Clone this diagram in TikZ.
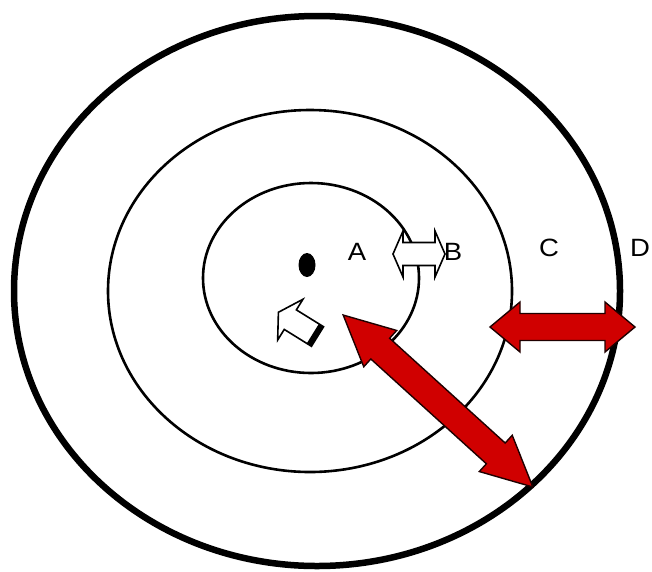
\documentclass[tikz,border=0pt]{standalone}
\usepackage{fontspec}
\setmainfont{Liberation Sans}
\definecolor{arrowred}{RGB}{208,0,0}
\tikzset{
  ring/.style={draw=black, line width=2.6pt},
  zone/.style={font=\fontsize{25}{29}\selectfont, xscale=1.1, inner sep=0pt},
  redarrow/.style={fill=arrowred, draw=black!85!arrowred, line width=1.4pt},
  whitearrow/.style={fill=white, draw=black, line width=1.6pt}
}
\begin{document}
\begin{tikzpicture}[x=1pt,y=-1pt]
    \useasboundingbox (0,0) rectangle (652,571);
    % rings
    \draw[ring, line width=6.5pt] (317,291) ellipse [x radius=303, y radius=275];
    \draw[ring] (310,291) ellipse [x radius=202, y radius=181];
    \draw[ring] (311,278) ellipse [x radius=108, y radius=95];
    % centre
    \fill (307,265) ellipse [x radius=8.5, y radius=12];
    % zones
    \node[zone] (labA) at (357,252) {A};
    \node[zone] (labB) at (453,252) {B};
    \node[zone] (labC) at (549,248) {C};
    \node[zone] (labD) at (640,248) {D};
    % red arrows
    \scope[shift={(562.5,327)}]
    \draw[redarrow] (-72.5,0) -- (-42.5,-25) -- (-42.5,-13.5) -- (42.5,-13.5) -- (42.5,-25) -- (72.5,0)
        -- (42.5,25) -- (42.5,13.5) -- (-42.5,13.5) -- (-42.5,25) -- cycle;
    \endscope
    \scope[shift={(438,401)}, rotate=-42.2]
    \draw[redarrow] (-128,0) -- (-78,-24.5) -- (-78,-14) -- (78,-14) -- (78,-24.5) -- (128,0)
        -- (78,24.5) -- (78,14) -- (-78,14) -- (-78,24.5) -- cycle;
    \endscope
    % white arrows
    \scope[shift={(419,254)}]
    \draw[whitearrow] (-26,0) -- (-16,-23) -- (-16,-11.5) -- (16,-11.5) -- (16,-23) -- (26,0)
        -- (16,23) -- (16,11.5) -- (-16,11.5) -- (-16,23) -- cycle;
    \endscope
    \scope[shift={(317.5,336.5)}, rotate=148.2]
    \draw[whitearrow] (0,-11.5) -- (32,-11.5) -- (32,-24) -- (46,0) -- (32,24) -- (32,11.5) -- (0,11.5) -- cycle;
    \fill (0,-11.5) rectangle (5.5,11.5);
    \endscope
\end{tikzpicture}
\end{document}
